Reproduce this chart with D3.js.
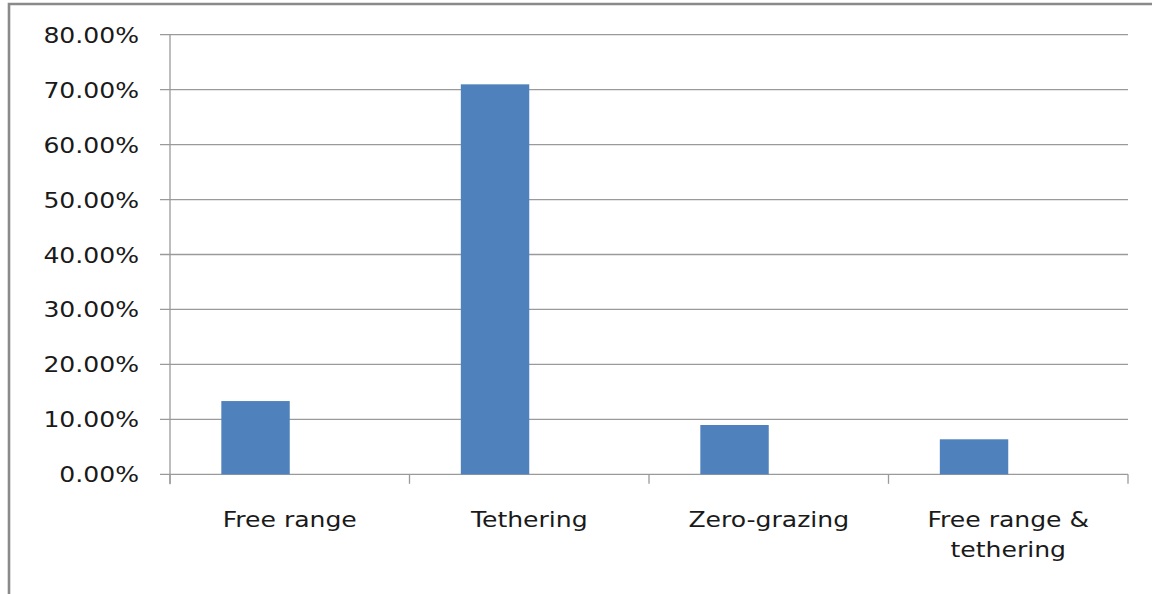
<!DOCTYPE html>
<html>
<head>
<meta charset="utf-8">
<script src="https://cdn.jsdelivr.net/npm/d3@7"></script>
<style>
  html, body { margin: 0; padding: 0; background: #fff; }
  svg { display: block; }
  text { font-family: "DejaVu Sans", Verdana, sans-serif; fill: #1a1a1a; }
</style>
</head>
<body>
<svg id="chart" width="1152" height="594"></svg>
<script>
// Grazing system shares (fraction of respondents)
const categories = ["Free range", "Tethering", "Zero-grazing", "Free range & tethering"];
const shares = [0.1333, 0.7097, 0.0897, 0.0637];
const seriesSlots = ["share", "empty"];
const yTicks = [0, 0.1, 0.2, 0.3, 0.4, 0.5, 0.6, 0.7, 0.8];

const W = 1152, H = 594;
const plot = { left: 170, right: 1128, top: 34.7, bottom: 474.3 };
const stretch = 1.14;
const fontSize = 22;

const svg = d3.select("#chart");

// outer chart frame
svg.append("path")
  .attr("d", `M9,${H + 5} L9,4 L${W + 5},4`)
  .attr("fill", "none")
  .attr("stroke", "#8a8a8a")
  .attr("stroke-width", 2.6);

const x = d3.scaleBand().domain(categories).range([plot.left, plot.right]).padding(0);
const xs = d3.scaleBand().domain(seriesSlots).range([0, x.bandwidth()])
  .paddingInner(0).paddingOuter(0.75);
const y = d3.scaleLinear().domain([0, 0.8]).range([plot.bottom, plot.top]);

// horizontal gridlines with left tick stubs
svg.append("g").selectAll("line").data(yTicks).join("line")
  .attr("x1", plot.left - 10).attr("x2", plot.right)
  .attr("y1", d => y(d)).attr("y2", d => y(d))
  .attr("stroke", "#9a9a9a").attr("stroke-width", 1.3);

// y axis line
svg.append("line")
  .attr("x1", plot.left).attr("x2", plot.left)
  .attr("y1", plot.top).attr("y2", plot.bottom + 10)
  .attr("stroke", "#9a9a9a").attr("stroke-width", 1.3);

// x axis category separators
const bounds = categories.map(c => x(c)).concat([plot.right]);
svg.append("g").selectAll("line").data(bounds).join("line")
  .attr("x1", d => d).attr("x2", d => d)
  .attr("y1", plot.bottom).attr("y2", plot.bottom + 9.5)
  .attr("stroke", "#9a9a9a").attr("stroke-width", 1.3);

// y tick labels
const fmt = d3.format(".2%");
svg.append("g").selectAll("text").data(yTicks).join("text")
  .attr("transform", d => `translate(139,${y(d) + 8}) scale(${stretch},1)`)
  .attr("text-anchor", "end")
  .attr("font-size", fontSize)
  .text(d => fmt(d));

// bars
svg.append("g").selectAll("rect").data(categories).join("rect")
  .attr("x", c => x(c) + xs("share"))
  .attr("width", xs.bandwidth())
  .attr("y", (c, i) => y(shares[i]))
  .attr("height", (c, i) => y(0) - y(shares[i]))
  .attr("fill", "#4f81bd");

// category labels, wrapped like the source layout
const wrap = { "Free range & tethering": ["Free range &", "tethering"] };
const labels = svg.append("g").selectAll("text").data(categories).join("text")
  .attr("transform", c => `translate(${x(c) + x.bandwidth() / 2},526.5) scale(${stretch},1)`)
  .attr("text-anchor", "middle")
  .attr("font-size", fontSize);
labels.each(function (c) {
  const lines = wrap[c] || [c];
  d3.select(this).selectAll("tspan").data(lines).join("tspan")
    .attr("x", 0)
    .attr("dy", (d, i) => i === 0 ? 0 : 30.5)
    .text(d => d);
});
</script>
</body>
</html>
